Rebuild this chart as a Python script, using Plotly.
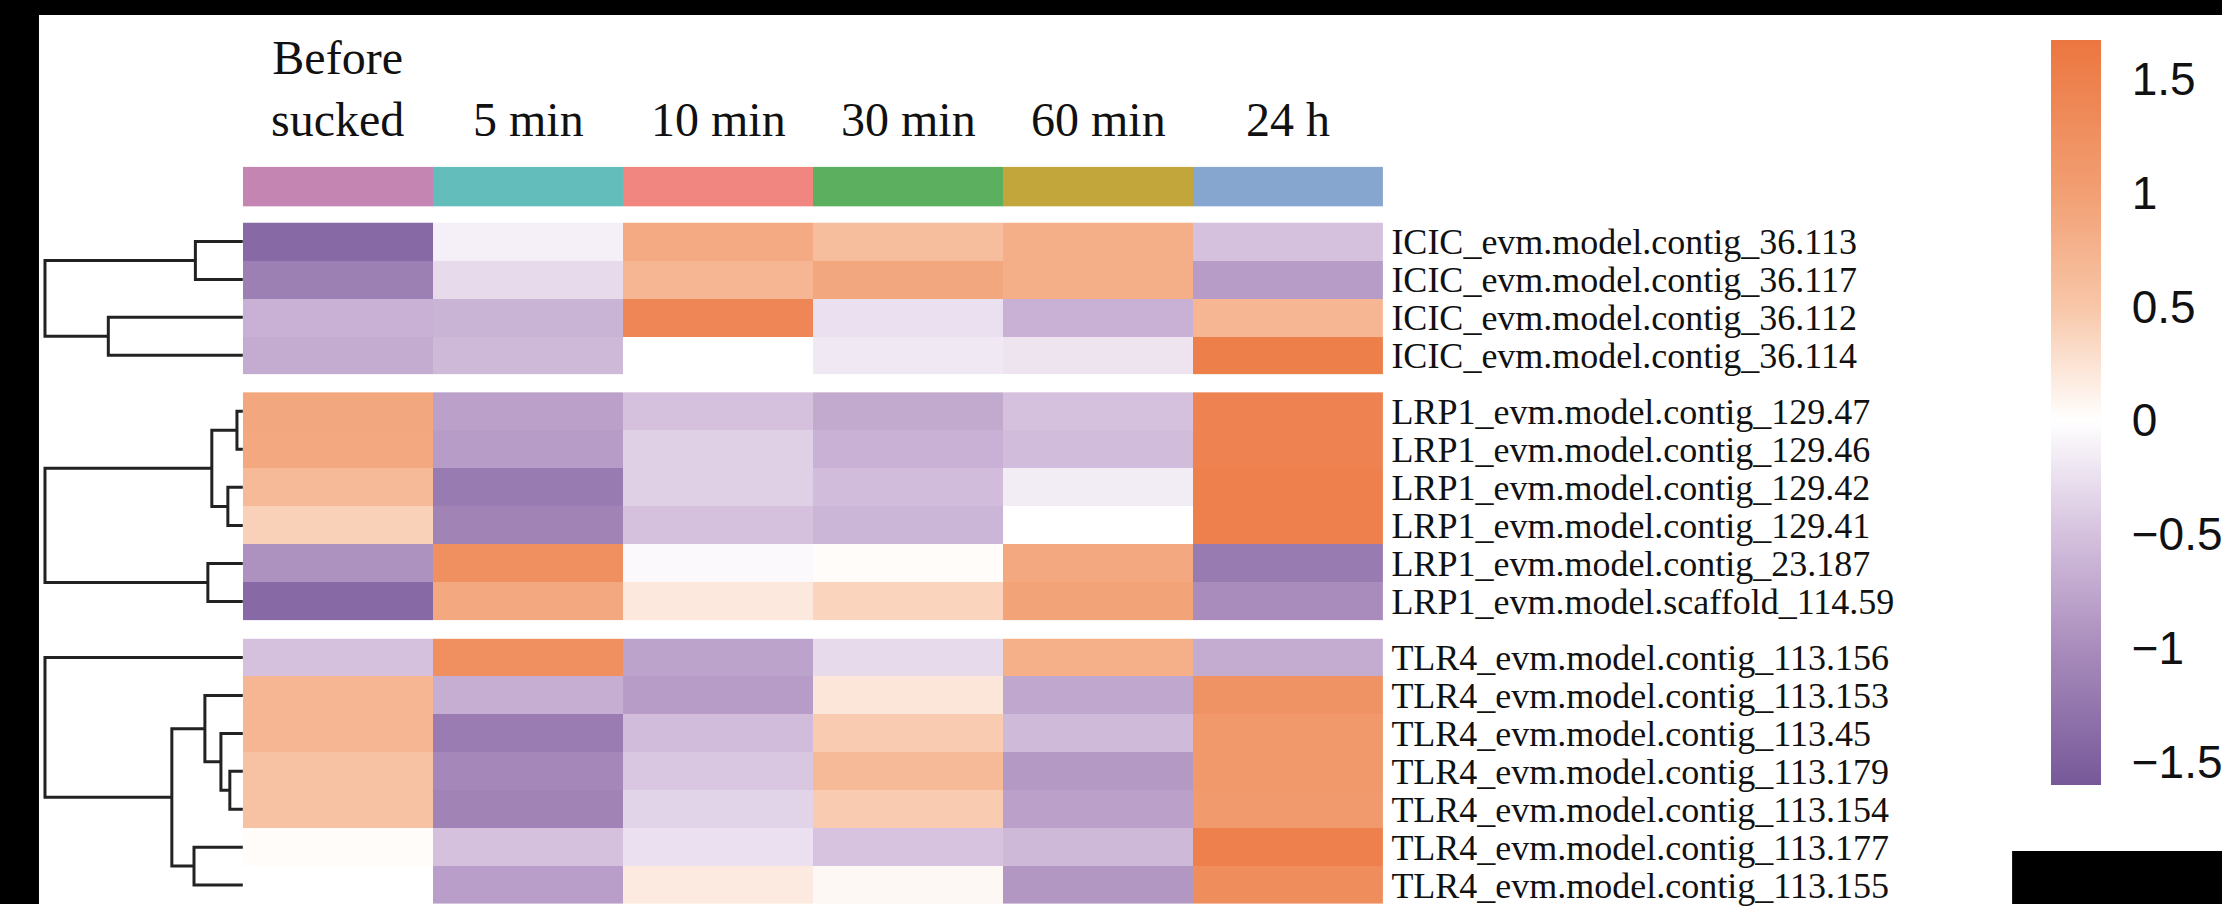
import plotly.graph_objects as go

W, H = 2223, 906

# ---------------- data ----------------
columns = ["Before sucked", "5 min", "10 min", "30 min", "60 min", "24 h"]
column_labels = ["Before<br>sucked", "5 min", "10 min", "30 min", "60 min", "24 h"]
column_colors = ["#C585B3", "#62BDBB", "#F18580", "#5BAF5F", "#C2A63C", "#86A5CF"]

icic_genes = [
    "ICIC_evm.model.contig_36.113",
    "ICIC_evm.model.contig_36.117",
    "ICIC_evm.model.contig_36.112",
    "ICIC_evm.model.contig_36.114",
]
icic_values = [
    [-1.40, -0.12, 0.85, 0.60, 0.80, -0.50],
    [-1.15, -0.30, 0.70, 0.90, 0.80, -0.85],
    [-0.65, -0.62, 1.40, -0.25, -0.65, 0.70],
    [-0.70, -0.58, 0.00, -0.18, -0.22, 1.52],
]

lrp1_genes = [
    "LRP1_evm.model.contig_129.47",
    "LRP1_evm.model.contig_129.46",
    "LRP1_evm.model.contig_129.42",
    "LRP1_evm.model.contig_129.41",
    "LRP1_evm.model.contig_23.187",
    "LRP1_evm.model.scaffold_114.59",
]
lrp1_values = [
    [0.90, -0.80, -0.50, -0.72, -0.50, 1.45],
    [0.88, -0.85, -0.38, -0.65, -0.55, 1.45],
    [0.65, -1.20, -0.38, -0.55, -0.15, 1.50],
    [0.40, -1.10, -0.50, -0.60, 0.00, 1.50],
    [-0.95, 1.25, -0.05, 0.03, 0.88, -1.20],
    [-1.40, 0.88, 0.20, 0.38, 0.95, -1.00],
]

tlr4_genes = [
    "TLR4_evm.model.contig_113.156",
    "TLR4_evm.model.contig_113.153",
    "TLR4_evm.model.contig_113.45",
    "TLR4_evm.model.contig_113.179",
    "TLR4_evm.model.contig_113.154",
    "TLR4_evm.model.contig_113.177",
    "TLR4_evm.model.contig_113.155",
]
tlr4_values = [
    [-0.50, 1.25, -0.78, -0.30, 0.78, -0.70],
    [0.70, -0.68, -0.85, 0.22, -0.75, 1.20],
    [0.70, -1.18, -0.55, 0.45, -0.57, 1.10],
    [0.55, -1.05, -0.45, 0.65, -0.88, 1.10],
    [0.55, -1.10, -0.35, 0.45, -0.80, 1.08],
    [0.03, -0.50, -0.25, -0.48, -0.58, 1.50],
    [0.00, -0.83, 0.18, 0.06, -0.90, 1.30],
]

# dendrogram merges: (child a, child b, height); new nodes numbered n, n+1, ...
icic_merges = [(0, 1, 0.24), (2, 3, 0.68), (4, 5, 1.0)]
lrp1_merges = [(0, 1, 0.03), (2, 3, 0.076), (6, 7, 0.157), (4, 5, 0.177), (8, 9, 1.0)]
tlr4_merges = [(3, 4, 0.066), (2, 7, 0.111), (1, 8, 0.192), (5, 6, 0.247),
               (9, 10, 0.359), (0, 11, 1.0)]

colorbar_ticks = [-1.5, -1, -0.5, 0, 0.5, 1, 1.5]
colorbar_ticktext = ["\u22121.5", "\u22121", "\u22120.5", "0", "0.5", "1", "1.5"]
z_min, z_max = -1.6, 1.67
# colour stops: (value, colour)
color_stops = [(-1.6, "#765899"), (-1.0, "#A98CBC"), (-0.5, "#D5C1DE"), (0.0, "#FFFFFF"),
               (0.5, "#F8C6A8"), (1.0, "#F29F73"), (1.67, "#EC7640")]

# ---------------- layout constants (pixels) ----------------
HM_X0, HM_X1 = 243, 1384
DEN_X0 = 40
DEN_ROOT_PX = 45
GROUPS_PX = [(223, 375), (393, 622), (640, 906)]
ANNOT_PX = (167, 207)
CB_TOP, CB_BOTTOM, CB_X = 40, 785, 2052

SERIF = "Liberation Serif, Times New Roman, serif"
SANS = "Liberation Sans, Arial, sans-serif"


def px_x(p):
    return p / W


def px_y(p):
    return 1 - p / H


def dendro_xy(n, merges):
    pos = {i: (0.0, float(i)) for i in range(n)}
    xs, ys = [], []
    for k, (a, b, h) in enumerate(merges):
        ha, ya = pos[a]
        hb, yb = pos[b]
        xs += [ha, h, h, hb, None]
        ys += [ya, ya, yb, yb, None]
        pos[n + k] = (h, (ya + yb) / 2)
    return xs, ys


fig = go.Figure()

groups = [
    (icic_genes, icic_values, icic_merges),
    (lrp1_genes, lrp1_values, lrp1_merges),
    (tlr4_genes, tlr4_values, tlr4_merges),
]

yaxis_names = ["y", "y2", "y3"]
for gi, (genes, vals, merges) in enumerate(groups):
    ya = yaxis_names[gi]
    fig.add_trace(go.Heatmap(
        z=vals, x=list(range(len(columns))), y=list(range(len(genes))),
        coloraxis="coloraxis", xaxis="x", yaxis=ya,
        hovertemplate="%{z}<extra></extra>",
    ))
    dx, dy = dendro_xy(len(genes), merges)
    fig.add_trace(go.Scatter(
        x=dx, y=dy, mode="lines", xaxis="x2", yaxis=ya,
        line=dict(color="#222222", width=3), hoverinfo="skip", showlegend=False,
    ))

# annotation colour bar
n_col = len(columns)
disc_scale = []
for i, c in enumerate(column_colors):
    disc_scale.append([i / n_col, c])
    disc_scale.append([(i + 1) / n_col, c])
fig.add_trace(go.Heatmap(
    z=[list(range(n_col))], x=list(range(n_col)), y=[0],
    colorscale=disc_scale, zmin=-0.5, zmax=n_col - 0.5, showscale=False,
    xaxis="x", yaxis="y4", hoverinfo="skip",
))

colorscale = [[(v - z_min) / (z_max - z_min), c] for v, c in color_stops]

den_range_left = (HM_X0 - DEN_X0) / (HM_X0 - DEN_ROOT_PX)

layout = dict(
    width=W, height=H,
    margin=dict(l=0, r=0, t=0, b=0),
    paper_bgcolor="white", plot_bgcolor="white",
    showlegend=False,
    xaxis=dict(domain=[px_x(HM_X0), px_x(HM_X1)], range=[-0.5, n_col - 0.5],
               visible=False, anchor="y"),
    xaxis2=dict(domain=[px_x(DEN_X0), px_x(HM_X0)], range=[den_range_left, 0],
                visible=False, anchor="y"),
    yaxis4=dict(domain=[px_y(ANNOT_PX[1]), px_y(ANNOT_PX[0])], range=[0.5, -0.5],
                visible=False, anchor="x"),
    coloraxis=dict(
        colorscale=colorscale, cmin=z_min, cmax=z_max,
        colorbar=dict(
            thickness=50, lenmode="pixels", len=CB_BOTTOM - CB_TOP,
            x=px_x(CB_X), xanchor="left", xpad=0,
            y=px_y(CB_TOP), yanchor="top", ypad=0,
            outlinewidth=0,
            tickvals=colorbar_ticks, ticktext=colorbar_ticktext,
            ticks="outside", ticklen=22, tickcolor="rgba(0,0,0,0)",
            tickfont=dict(family=SANS, size=46, color="#111111"),
        ),
    ),
)

for gi, (genes, vals, merges) in enumerate(groups):
    top, bot = GROUPS_PX[gi]
    key = "yaxis" if gi == 0 else f"yaxis{gi + 1}"
    layout[key] = dict(
        domain=[px_y(bot), px_y(top)], range=[len(genes) - 0.5, -0.5],
        anchor="x", side="right",
        tickvals=list(range(len(genes))), ticktext=genes,
        tickfont=dict(family=SERIF, size=36, color="#111111"),
        ticks="", showgrid=False, zeroline=False, showline=False,
        ticklabelstandoff=7, ticklabeloverflow="allow",
    )

fig.update_layout(**layout)

# column labels
for i, lab in enumerate(column_labels):
    fig.add_annotation(
        x=i, xref="x", y=px_y(148), yref="paper", yanchor="bottom",
        text=lab, showarrow=False, align="center",
        font=dict(family=SERIF, size=48, color="#111111"),
    )

# black frame pieces of the original picture
fig.add_shape(type="rect", xref="paper", yref="paper", x0=0, x1=1, y0=px_y(15), y1=1,
              fillcolor="black", line_width=0, layer="above")
fig.add_shape(type="rect", xref="paper", yref="paper", x0=0, x1=px_x(39), y0=0, y1=1,
              fillcolor="black", line_width=0, layer="above")
fig.add_shape(type="rect", xref="paper", yref="paper", x0=px_x(2013), x1=1, y0=0, y1=px_y(853),
              fillcolor="black", line_width=0, layer="above")

fig.write_html("out.html")
